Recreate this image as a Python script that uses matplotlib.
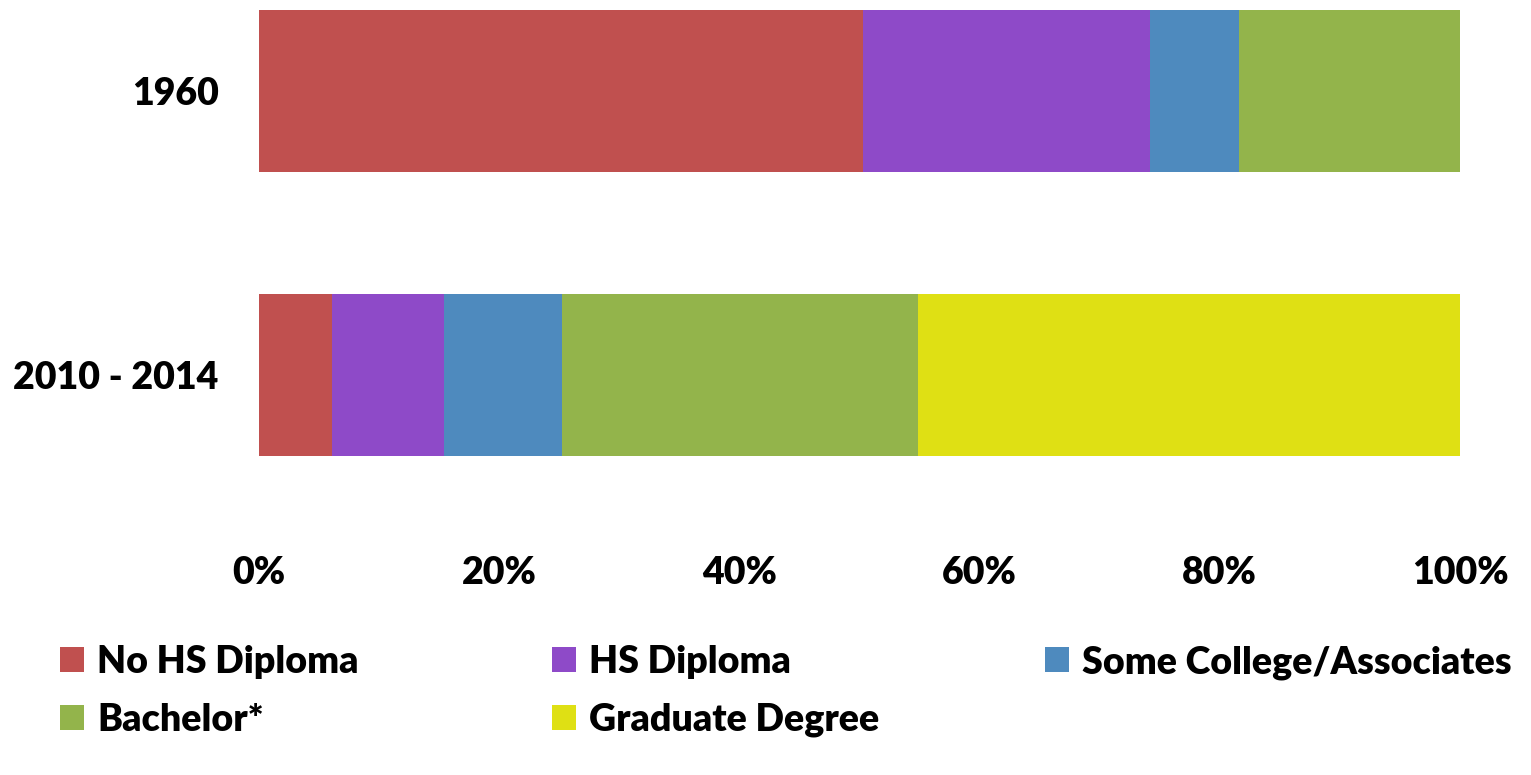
import matplotlib.pyplot as plt
import numpy as np

# shares of each education level, in percent
periods = ['2010 - 2014', '1960']
categories = ['No HS Diploma', 'HS Diploma', 'Some College/Associates',
              'Bachelor*', 'Graduate Degree']
values = {
    'No HS Diploma':           [6.1, 50.3],
    'HS Diploma':              [9.3, 23.9],
    'Some College/Associates': [9.8, 7.4],
    'Bachelor*':               [29.7, 18.4],
    'Graduate Degree':         [45.1, 0.0],
}
colors = ['#C0504F', '#8E4AC8', '#4E8ABE', '#93B44B', '#DFE014']
xticks = [0, 20, 40, 60, 80, 100]

plt.rcParams['font.family'] = ['Lato', 'DejaVu Sans']
FS = 27
W = 'heavy'

fig = plt.figure(figsize=(15.31, 7.75), dpi=100)
ax = fig.add_axes([259 / 1531, 1 - 460 / 775, (1460 - 259) / 1531, 454 / 775])

y = np.arange(len(periods))
left = np.zeros(len(periods))
handles = []
for cat, col in zip(categories, colors):
    vals = np.array(values[cat])
    h = ax.barh(y, vals, left=left, height=0.57, color=col, label=cat)
    handles.append(h)
    left += vals

ax.set_xlim(0, 100)
ax.set_ylim(-0.3, 1.3)
ax.set_yticks(y)
ax.set_yticklabels(periods, fontsize=FS, fontweight=W)
ax.set_xticks(xticks)
ax.set_xticklabels([f'{t}%' for t in xticks], fontsize=FS, fontweight=W)
ax.tick_params(axis='x', length=0, pad=69)
ax.tick_params(axis='y', length=0, pad=29)
for s in ax.spines.values():
    s.set_visible(False)

# legend: three columns placed like the original
col_x = [60, 552, 1045]
groups = [[0, 3], [1, 4], [2]]
for cx, idx in zip(col_x, groups):
    fig.legend([handles[i] for i in idx], [categories[i] for i in idx],
               loc='upper left', bbox_to_anchor=(cx / 1531, 1 - 645 / 775),
               frameon=False, handlelength=0.64, handleheight=0.64,
               handletextpad=0.35, labelspacing=0.63,
               borderpad=0, borderaxespad=0, prop={'weight': W, 'size': FS})

fig.savefig('out.png', dpi=100)
